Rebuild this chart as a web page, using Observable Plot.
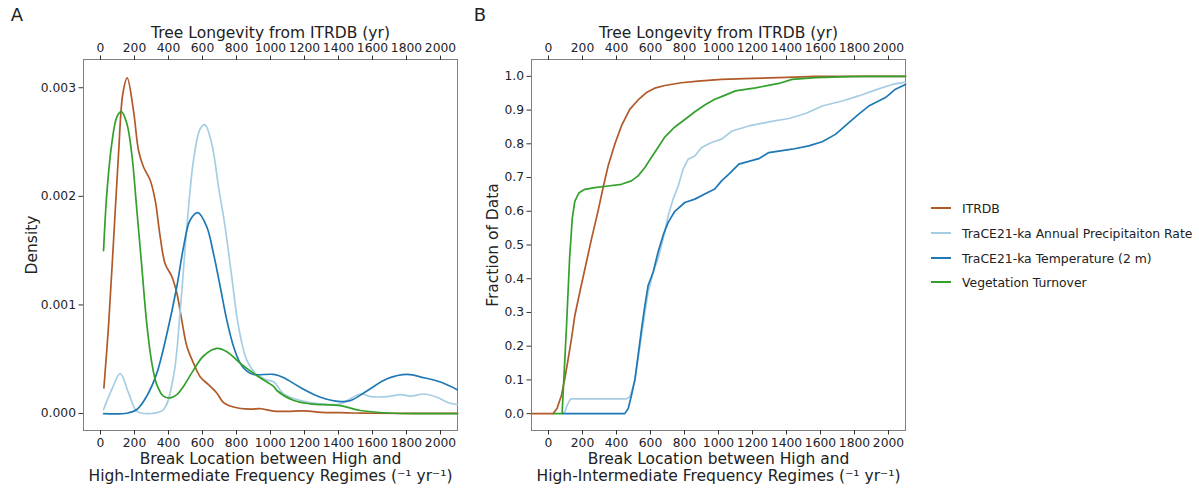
<!DOCTYPE html>
<html>
<head>
<meta charset="utf-8">
<script src="https://cdn.jsdelivr.net/npm/d3@7"></script>
<script src="https://cdn.jsdelivr.net/npm/@observablehq/plot@0.6"></script>
<style>
  html, body { margin: 0; padding: 0; background: white; }
  #wrap { position: relative; width: 1199px; height: 488px; font-family: "DejaVu Sans", sans-serif; color: #222; }
  #wrap svg { position: absolute; top: 0; }
  #legend { position: absolute; left: 931px; top: 0; font-size: 12.4px; }
  .row { position: absolute; left: 0; white-space: nowrap; display: flex; align-items: center; height: 16px; }
  .sw { width: 20px; height: 2px; margin-right: 11px; }
</style>
</head>
<body>
<div id="wrap"></div>
<script>
// ---------- data ----------
const seriesNames = ["ITRDB", "TraCE21-ka Annual Precipitaiton Rate", "TraCE21-ka Temperature (2 m)", "Vegetation Turnover"];
const seriesColors = ["#b15928", "#a6cee3", "#1f78b4", "#33a02c"];
const xTicks = [0, 200, 400, 600, 800, 1000, 1200, 1400, 1600, 1800, 2000];
const yTicksDensity = [0, 0.001, 0.002, 0.003];
const yTicksFraction = [0, 0.1, 0.2, 0.3, 0.4, 0.5, 0.6, 0.7, 0.8, 0.9, 1.0];
const topLabel = "Tree Longevity from ITRDB (yr)";
const bottomLabel1 = "Break Location between High and";
const bottomLabel2 = "High-Intermediate Frequency Regimes (\u207b\u00b9 yr\u207b\u00b9)";

// Panel A: density [x, density]
const densityITRDB = [[20,0.000236],[47,0.0008],[76,0.00157],[106,0.00239],[131,0.00294],[157,0.00309],[194,0.00279],[224,0.00242],[253,0.00227],[292,0.00215],[322,0.00196],[351,0.00163],[380,0.00138],[420,0.00126],[449,0.00111],[478,0.00086],[508,0.00062],[547,0.000465],[586,0.00034],[635,0.000266],[684,0.00019],[724,0.0001],[782,0.00006],[880,0.00004],[939,0.000045],[1018,0.000022],[1100,0.00002],[1200,0.000025],[1300,0.00001],[1400,0.000008],[1500,0.000005],[1600,0.000003],[1800,0.000002],[2100,0.000001]];
const densityPrecip = [[18,0.000037],[66,0.00022],[116,0.000367],[165,0.00019],[214,0.00002],[292,0],[370,0.000037],[429,0.00034],[469,0.00095],[508,0.00172],[547,0.00233],[586,0.00262],[614,0.00266],[655,0.00248],[694,0.00209],[733,0.00172],[772,0.00126],[812,0.0008],[861,0.00049],[919,0.00036],[978,0.00031],[1020,0.00029],[1078,0.00018],[1176,0.00012],[1333,0.000083],[1412,0.00009],[1529,0.00018],[1588,0.000156],[1686,0.000156],[1765,0.000174],[1824,0.00016],[1902,0.00018],[1980,0.00015],[2039,0.000104],[2098,0.000083]];
const densityTemp = [[18,0],[155,0.000003],[214,0.000037],[272,0.00016],[331,0.00037],[390,0.00073],[449,0.00117],[488,0.00153],[527,0.00178],[573,0.00185],[625,0.00172],[665,0.00147],[704,0.00117],[743,0.00086],[782,0.00062],[821,0.000465],[861,0.00039],[900,0.00036],[1020,0.00036],[1078,0.00033],[1176,0.00024],[1294,0.00015],[1412,0.00011],[1471,0.00012],[1569,0.00021],[1686,0.00032],[1804,0.00036],[1902,0.00033],[2000,0.00029],[2098,0.00022]];
const densityVeg = [[18,0.0015],[37,0.00202],[66,0.00248],[96,0.00273],[123,0.00278],[155,0.00267],[184,0.00239],[214,0.00187],[243,0.00135],[272,0.00083],[302,0.000465],[331,0.000266],[370,0.00016],[410,0.000144],[449,0.000174],[488,0.00025],[547,0.0004],[606,0.00053],[684,0.0006],[743,0.00057],[821,0.000465],[919,0.00035],[1018,0.00025],[1039,0.00021],[1137,0.00012],[1235,0.00009],[1412,0.000073],[1529,0.000028],[1725,0.000003],[2100,0]];

// Panel B: cumulative fraction [x, fraction]
const ecdfITRDB = [[-100,0],[27,0],[50,0.015],[76,0.054],[96,0.104],[116,0.163],[135,0.222],[155,0.291],[184,0.36],[214,0.429],[253,0.518],[292,0.602],[322,0.672],[351,0.735],[390,0.799],[429,0.853],[478,0.902],[527,0.930],[576,0.952],[625,0.965],[684,0.973],[782,0.981],[880,0.986],[1018,0.991],[1200,0.994],[1400,0.997],[1570,1.0],[2100,1.0]];
const ecdfPrecip = [[85,0],[96,0.005],[110,0.025],[130,0.044],[459,0.044],[478,0.05],[488,0.064],[508,0.10],[527,0.163],[547,0.23],[567,0.30],[586,0.36],[616,0.42],[645,0.46],[675,0.52],[704,0.587],[733,0.636],[763,0.675],[792,0.725],[821,0.754],[861,0.764],[900,0.789],[959,0.804],[1018,0.814],[1080,0.838],[1178,0.853],[1296,0.865],[1414,0.875],[1512,0.890],[1610,0.912],[1727,0.927],[1825,0.942],[1924,0.960],[2022,0.976],[2100,0.983]];
const ecdfTemp = [[85,0],[449,0],[469,0.015],[488,0.054],[508,0.10],[527,0.172],[547,0.25],[567,0.32],[586,0.38],[616,0.42],[645,0.48],[675,0.53],[704,0.567],[743,0.60],[802,0.626],[861,0.636],[919,0.651],[978,0.666],[1018,0.69],[1061,0.71],[1120,0.74],[1237,0.756],[1296,0.774],[1433,0.784],[1531,0.794],[1610,0.806],[1688,0.828],[1767,0.863],[1825,0.888],[1884,0.912],[1982,0.937],[2041,0.962],[2100,0.976]];
const ecdfVeg = [[30,0],[80,0],[86,0.06],[106,0.26],[124,0.46],[140,0.58],[155,0.63],[180,0.655],[214,0.665],[272,0.670],[351,0.675],[429,0.680],[488,0.690],[527,0.705],[567,0.730],[606,0.760],[645,0.79],[684,0.82],[743,0.85],[802,0.872],[861,0.895],[919,0.915],[978,0.932],[1018,0.94],[1100,0.957],[1218,0.966],[1355,0.979],[1433,0.991],[1571,0.996],[1767,0.999],[1850,1.0],[2100,1.0]];

// ---------- drawing ----------
const font = "DejaVu Sans, sans-serif";
const tickFont = 12.3;
const labelFont = 15.5;
const wrap = document.getElementById("wrap");
const common = {
  height: 488, marginTop: 59, marginBottom: 58,
  style: { fontFamily: font, fontSize: tickFont + "px", color: "#222", background: "transparent", overflow: "visible" },
  x: { domain: [-100, 2100] }
};
function axes(yTicks, fmt) {
  const xf = d => String(d);
  return [
    Plot.frame({ stroke: "#808080", strokeWidth: 1 }),
    Plot.axisX({ ticks: xTicks, tickFormat: xf, anchor: "top", tickSize: 4.5, tickPadding: 3, label: null, fontSize: tickFont, stroke: "#333" }),
    Plot.axisX({ ticks: xTicks, tickFormat: xf, anchor: "bottom", tickSize: 4.5, tickPadding: 3, label: null, fontSize: tickFont, stroke: "#333" }),
    Plot.axisY({ ticks: yTicks, tickFormat: fmt, tickSize: 4.5, tickPadding: 3, label: null, fontSize: tickFont, stroke: "#333" }),
    Plot.text([topLabel], { frameAnchor: "top", dy: -26, fontSize: labelFont, lineAnchor: "middle" }),
    Plot.text([bottomLabel1], { frameAnchor: "bottom", dy: 29, fontSize: labelFont, lineAnchor: "middle" }),
    Plot.text([bottomLabel2], { frameAnchor: "bottom", dy: 46, fontSize: labelFont, lineAnchor: "middle" })
  ];
}
function lines(sets, curve) {
  return sets.map((s, i) => Plot.line(s, { x: d => d[0], y: d => d[1], stroke: seriesColors[i], strokeWidth: 1.7, curve }));
}

const plotA = Plot.plot({
  ...common, width: 470, marginLeft: 83, marginRight: 13,
  y: { domain: [-0.000156, 0.00326] },
  marks: [
    ...axes(yTicksDensity, d => d.toFixed(3)),
    Plot.text(["Density"], { frameAnchor: "left", dx: -51, rotate: -90, fontSize: labelFont, textAnchor: "middle", lineAnchor: "middle" }),
    Plot.text(["A"], { frameAnchor: "top-left", dx: -66.5, dy: -44.5, fontSize: 18, textAnchor: "middle", lineAnchor: "middle" }),
    ...lines([densityITRDB, densityPrecip, densityTemp, densityVeg], "catmull-rom")
  ]
});
plotA.style.left = "0px";
wrap.appendChild(plotA);

const plotB = Plot.plot({
  ...common, width: 460, marginLeft: 61, marginRight: 25,
  y: { domain: [-0.05, 1.05] },
  marks: [
    ...axes(yTicksFraction, d => d.toFixed(1)),
    Plot.text(["Fraction of Data"], { frameAnchor: "left", dx: -38.5, rotate: -90, fontSize: labelFont, textAnchor: "middle", lineAnchor: "middle" }),
    Plot.text(["B"], { frameAnchor: "top-left", dx: -51.5, dy: -44.5, fontSize: 18, textAnchor: "middle", lineAnchor: "middle" }),
    ...lines([ecdfITRDB, ecdfPrecip, ecdfTemp, ecdfVeg], "linear")
  ]
});
plotB.style.left = "470px";
wrap.appendChild(plotB);

// legend
const legend = document.createElement("div");
legend.id = "legend";
const rowY = [208, 233, 258, 282];
seriesNames.forEach((name, i) => {
  const row = document.createElement("div");
  row.className = "row";
  row.style.top = (rowY[i] - 8) + "px";
  const sw = document.createElement("div");
  sw.className = "sw";
  sw.style.background = seriesColors[i];
  const t = document.createElement("span");
  t.textContent = name;
  row.appendChild(sw);
  row.appendChild(t);
  legend.appendChild(row);
});
wrap.appendChild(legend);
</script>
</body>
</html>
